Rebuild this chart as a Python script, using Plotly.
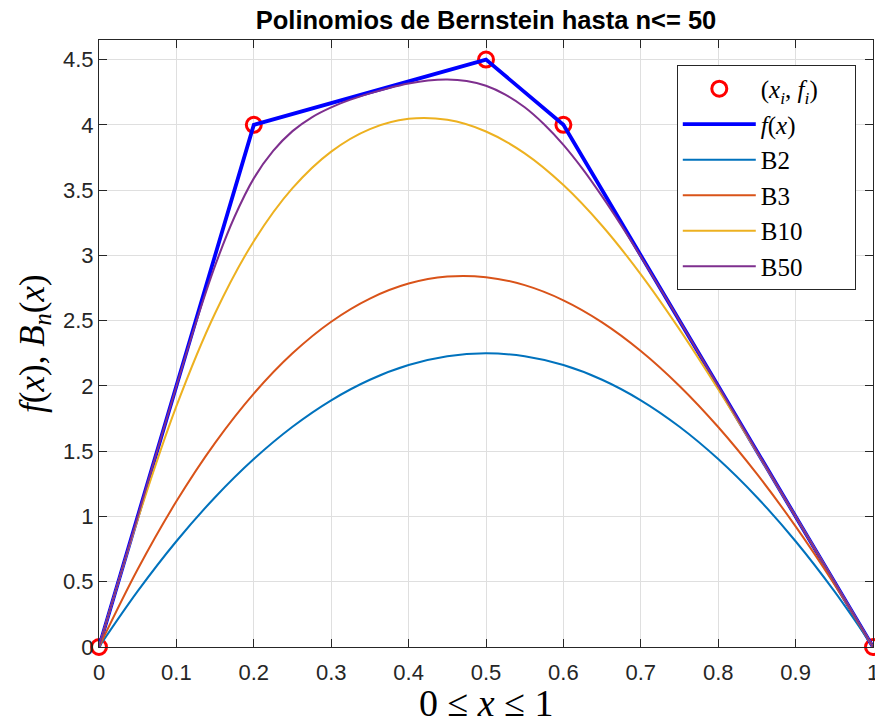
import plotly.graph_objects as go

# Nodes of the piecewise-linear function f
x_nodes = [0.0, 0.2, 0.5, 0.6, 1.0]
f_nodes = [0.0, 4.0, 4.5, 4.0, 0.0]

# Bernstein approximations sampled on a uniform grid
x_grid = [0.0, 0.05, 0.1, 0.15, 0.2, 0.25, 0.3, 0.35, 0.4, 0.45, 0.5,
          0.55, 0.6, 0.65, 0.7, 0.75, 0.8, 0.85, 0.9, 0.95, 1.0]
b2 = [0.0, 0.4275, 0.81, 1.1475, 1.44, 1.6875, 1.89, 2.0475, 2.16, 2.2275, 2.25,
      2.2275, 2.16, 2.0475, 1.89, 1.6875, 1.44, 1.1475, 0.81, 0.4275, 0.0]
b3 = [0.0, 0.5953, 1.116, 1.564, 1.9413, 2.25, 2.492, 2.6693, 2.784, 2.838, 2.8333,
      2.772, 2.656, 2.4873, 2.268, 2.0, 1.6853, 1.326, 0.924, 0.4813, 0.0]
b10 = [0.0, 0.9769, 1.8445, 2.5568, 3.1088, 3.515, 3.7952, 3.9678, 4.0461, 4.0384, 3.9492,
       3.7816, 3.539, 3.2273, 2.855, 2.4333, 1.9751, 1.4933, 0.999, 0.5, 0.0]

# B50 bends sharply near the corners, so it is sampled more densely there
x_b50 = [0.0, 0.05, 0.1, 0.125, 0.15, 0.175, 0.2, 0.225, 0.25, 0.275, 0.3, 0.325,
         0.35, 0.375, 0.4, 0.425, 0.45, 0.475, 0.5, 0.525, 0.55, 0.575, 0.6, 0.625,
         0.65, 0.675, 0.7, 0.725, 0.75, 0.8, 0.85, 0.9, 0.95, 1.0]
b50 = [0.0, 1.0, 1.997, 2.48, 2.921, 3.294, 3.59, 3.8, 3.952, 4.058, 4.134, 4.193,
       4.241, 4.283, 4.317, 4.34, 4.348, 4.336, 4.3, 4.232, 4.135, 4.005, 3.847, 3.661,
       3.452, 3.228, 2.991, 2.747, 2.499, 2.0, 1.5, 1.0, 0.5, 0.0]

x_ticks = [0.0, 0.1, 0.2, 0.3, 0.4, 0.5, 0.6, 0.7, 0.8, 0.9, 1.0]
x_labels = ["0", "0.1", "0.2", "0.3", "0.4", "0.5", "0.6", "0.7", "0.8", "0.9", "1"]
y_ticks = [0.0, 0.5, 1.0, 1.5, 2.0, 2.5, 3.0, 3.5, 4.0, 4.5]
y_labels = ["0", "0.5", "1", "1.5", "2", "2.5", "3", "3.5", "4", "4.5"]

AX = "#262626"
SERIF = "Liberation Serif"
SANS = "Liberation Sans"
NBSP = "\u00a0"

fig = go.Figure()
fig.add_trace(go.Scatter(
    x=x_nodes, y=f_nodes, mode="markers", cliponaxis=False,
    name="(<i>x<sub>i</sub></i>, <i>f<sub>i</sub></i>)" + NBSP * 5,
    marker=dict(symbol="circle-open", size=15, color="#ff0000",
                line=dict(width=3, color="#ff0000")),
))
fig.add_trace(go.Scatter(
    x=x_nodes, y=f_nodes, mode="lines", name="<i>f</i>(<i>x</i>)",
    line=dict(color="#0000ff", width=3.8),
))
for xs, ys, name, color in [
    (x_grid, b2, "B2", "#0072BD"),
    (x_grid, b3, "B3", "#D95319"),
    (x_grid, b10, "B10", "#EDB120"),
    (x_b50, b50, "B50", "#7E2F8E"),
]:
    fig.add_trace(go.Scatter(
        x=xs, y=ys, mode="lines", name=name,
        line=dict(color=color, width=2, shape="spline", smoothing=1.0),
    ))

axis_common = dict(
    ticks="inside", ticklen=8, tickcolor=AX, tickwidth=1,
    showline=True, linecolor=AX, linewidth=1, mirror="ticks",
    showgrid=True, gridcolor="#dfdfdf", gridwidth=1, zeroline=False,
    tickfont=dict(family=SANS, size=22, color=AX),
    ticklabeloverflow="allow",
)

fig.update_layout(
    width=875, height=726,
    margin=dict(l=99, r=2, t=40, b=79, autoexpand=False),
    paper_bgcolor="white", plot_bgcolor="white",
    title=dict(text="<b>Polinomios de Bernstein hasta n<= 50</b>",
               x=0.5, xref="paper", xanchor="center",
               y=1 - 20 / 726, yref="container", yanchor="middle",
               font=dict(family=SANS, size=25.5, color="black")),
    xaxis=dict(range=[0, 1], tickvals=x_ticks, ticktext=x_labels,
               ticklabelstandoff=6, **axis_common),
    yaxis=dict(range=[0, 4.65], tickvals=y_ticks, ticktext=y_labels, **axis_common),
    legend=dict(x=0.7465, y=0.959, xanchor="left", yanchor="top",
                bgcolor="white", bordercolor=AX, borderwidth=1,
                itemwidth=73, font=dict(family=SERIF, size=25, color="black")),
    showlegend=True,
    annotations=[
        dict(text="0 ≤ <i>x</i> ≤ 1", xref="paper", yref="paper",
             x=0.5, y=-0.092, xanchor="center", yanchor="middle",
             showarrow=False, font=dict(family=SERIF, size=38, color="black")),
        dict(text="<i>f</i>(<i>x</i>), <i>B<sub>n</sub></i>(<i>x</i>)",
             xref="paper", yref="paper", x=-0.0834, y=0.5, textangle=-90,
             xanchor="center", yanchor="middle", showarrow=False,
             font=dict(family=SERIF, size=35, color="black")),
    ],
)

fig.write_html("out.html")
